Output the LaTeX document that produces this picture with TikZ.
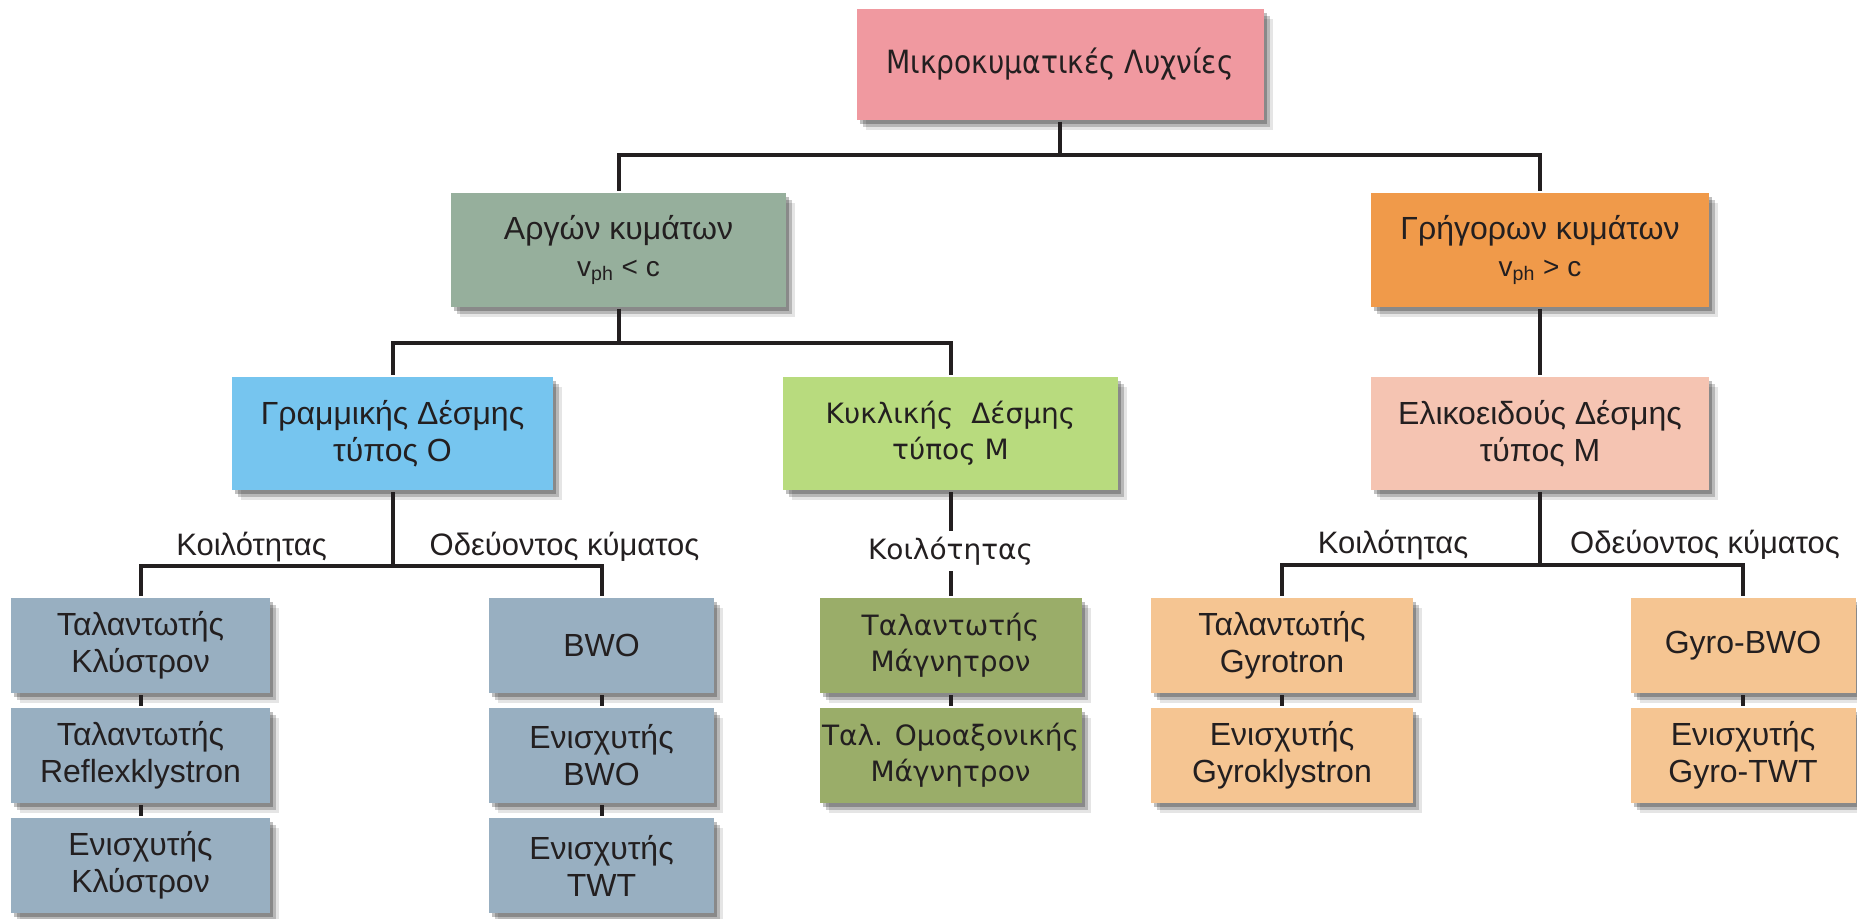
\documentclass[tikz,border=0pt]{standalone}
\usepackage{fontspec}
\usepackage{graphicx}
\setmainfont{Liberation Sans}
\newfontfamily\lucfont{DejaVu Sans}
\usetikzlibrary{shadows}

\definecolor{rootpink}{RGB}{240,153,160}
\definecolor{slowgreen}{RGB}{150,175,156}
\definecolor{fastorange}{RGB}{240,154,74}
\definecolor{linblue}{RGB}{118,197,239}
\definecolor{cyclgreen}{RGB}{184,219,126}
\definecolor{helixpink}{RGB}{245,196,178}
\definecolor{tubegray}{RGB}{152,175,193}
\definecolor{magolive}{RGB}{154,173,105}
\definecolor{gyropeach}{RGB}{245,197,146}
\definecolor{wirecol}{RGB}{35,31,32}

\tikzset{every picture/.style={line width=2pt}}

\begin{document}
\begin{tikzpicture}[x=0.5pt,y=-0.5pt,
    box/.style={rectangle, inner sep=0pt, align=center, text=wirecol,
      font=\fontsize{16}{18.5}\selectfont,
      drop shadow={shadow xshift=1.5pt, shadow yshift=-2pt, fill=black, opacity=0.25},
      drop shadow={shadow xshift=3pt, shadow yshift=-3.5pt, fill=black, opacity=0.2},
      drop shadow={shadow xshift=4.5pt, shadow yshift=-5pt, fill=black, opacity=0.1}},
    tube/.style={box, fill=tubegray, minimum height=47.5pt},
    wire/.style={draw=wirecol, line width=2pt},
    lbl/.style={font=\fontsize{15.5}{18}\selectfont, text=wirecol, inner sep=1pt}]
  \useasboundingbox (0,0) rectangle (1857,919);

  % top levels
  \node[box, fill=rootpink, minimum width=203.5pt, minimum height=55.5pt,
    font=\lucfont\fontsize{16}{18}\selectfont] (root) at (1060,64.5)
    {\scalebox{0.88}[1]{Μικροκυματικές Λυχνίες}};
  \node[box, fill=slowgreen, minimum width=167.5pt, minimum height=57pt,
    below of=root, node distance=92.75pt, xshift=-220.75pt] (slow)
    {Αργών κυμάτων\\{\fontsize{14}{16}\selectfont v\textsubscript{ph} < c}};
  \node[box, fill=fastorange, minimum width=169pt, minimum height=57pt,
    below of=root, node distance=92.75pt, xshift=240pt] (fast)
    {Γρήγορων κυμάτων\\{\fontsize{14}{16}\selectfont v\textsubscript{ph} > c}};

  \node[box, fill=linblue, minimum width=160.5pt, minimum height=56.5pt,
    below of=slow, node distance=91.75pt, xshift=-113pt] (linear) {Γραμμικής Δέσμης\\τύπος O};
  \node[box, fill=cyclgreen, minimum width=167.5pt, minimum height=56.5pt,
    font=\lucfont\fontsize{14}{18}\selectfont,
    below of=slow, node distance=91.75pt, xshift=166pt] (cyclic) {Κυκλικής~ Δέσμης\\τύπος M};
  \node[box, fill=helixpink, minimum width=169pt, minimum height=56.5pt,
    below of=fast, node distance=91.75pt] (helix) {Ελικοειδούς Δέσμης\\τύπος M};

  % linear beam tubes
  \node[tube, minimum width=129.5pt, below of=linear, node distance=106pt, xshift=-126pt] (klyst) {Ταλαντωτής\\Κλύστρον};
  \node[tube, minimum width=129.5pt, below of=klyst, node distance=55pt] (reflex) {Ταλαντωτής\\Reflexklystron};
  \node[tube, minimum width=129.5pt, below of=reflex, node distance=55pt] (klystamp) {Ενισχυτής\\Κλύστρον};
  \node[tube, minimum width=112.5pt, below of=linear, node distance=106pt, xshift=104.5pt] (bwo) {BWO};
  \node[tube, minimum width=112.5pt, below of=bwo, node distance=55pt] (bwoamp) {Ενισχυτής\\BWO};
  \node[tube, minimum width=112.5pt, below of=bwoamp, node distance=55pt] (twt) {Ενισχυτής\\TWT};

  % crossed field tubes
  \node[tube, fill=magolive, minimum width=131pt, font=\lucfont\fontsize{14}{18}\selectfont,
    below of=cyclic, node distance=106pt] (magn) {Ταλαντωτής\\Μάγνητρον};
  \node[tube, fill=magolive, minimum width=131pt, font=\lucfont\fontsize{14}{18}\selectfont,
    below of=magn, node distance=55pt] (coax) {Ταλ. Ομοαξονικής\\Μάγνητρον};

  % gyro tubes
  \node[tube, fill=gyropeach, minimum width=131pt, below of=helix, node distance=106pt, xshift=-129pt] (gyrotron) {Ταλαντωτής\\Gyrotron};
  \node[tube, fill=gyropeach, minimum width=131pt, below of=gyrotron, node distance=55pt] (gyroklys) {Ενισχυτής\\Gyroklystron};
  \node[tube, fill=gyropeach, minimum width=112.5pt, below of=helix, node distance=106pt, xshift=101.5pt] (gyrobwo) {Gyro-BWO};
  \node[tube, fill=gyropeach, minimum width=112.5pt, below of=gyrobwo, node distance=55pt] (gyrotwt) {Ενισχυτής\\Gyro-TWT};

  % branch labels
  \path (linear.south) ++(-141,55) node[lbl] (cav1) {Κοιλότητας};
  \path (linear.south) ++(172,55) node[lbl] (trav1) {Οδεύοντος κύματος};
  \path (helix.south) ++(-147,53) node[lbl] (cav2) {Κοιλότητας};
  \path (helix.south) ++(165,53) node[lbl] (trav2) {Οδεύοντος κύματος};

  % tree
  \draw[wire] (root.south) -- ++(0,33) -| (slow.north);
  \draw[wire] (root.south) -- ++(0,33) -| (fast.north);
  \draw[wire] (slow.south) -- ++(0,34) -| (linear.north);
  \draw[wire] (slow.south) -- ++(0,34) -| (cyclic.north);
  \draw[wire] (fast) -- (helix);
  \draw[wire] (linear.south) -- ++(0,74) -| (klyst.north);
  \draw[wire] (linear.south) -- ++(0,74) -| (bwo.north);
  \draw[wire] (helix.south) -- ++(0,73) -| (gyrotron.north);
  \draw[wire] (helix.south) -- ++(0,73) -| (gyrobwo.north);
  \draw[wire] (cyclic) -- (magn) node[pos=0.57, fill=white, inner sep=3pt, text=wirecol,
    font=\lucfont\fontsize{14}{18}\selectfont] (cav3) {Κοιλότητας};
  \draw[wire] (klyst) -- (reflex);
  \draw[wire] (reflex) -- (klystamp);
  \draw[wire] (bwo) -- (bwoamp);
  \draw[wire] (bwoamp) -- (twt);
  \draw[wire] (magn) -- (coax);
  \draw[wire] (gyrotron) -- (gyroklys);
  \draw[wire] (gyrobwo) -- (gyrotwt);
\end{tikzpicture}
\end{document}
